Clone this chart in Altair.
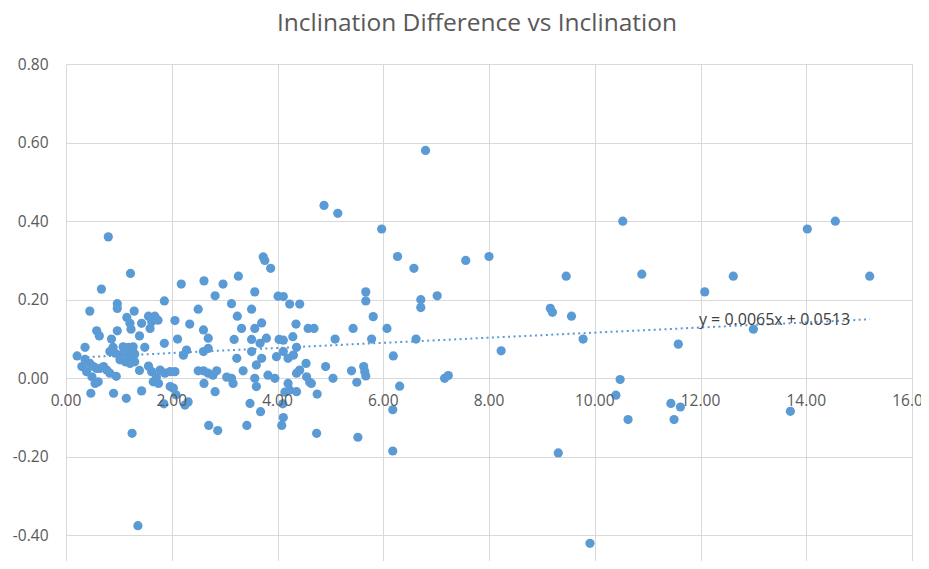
import altair as alt
import pandas as pd

# Inclination (x) and inclination difference (y)
x_vals = [
    6.80, 4.88, 5.14, 5.97, 0.80, 10.53, 14.02, 14.55, 15.20, 10.89, 12.62, 12.08, 9.46, 7.56,
    8.00, 6.27, 6.58, 7.02, 6.71, 6.71, 9.16, 9.20, 9.56, 9.78, 8.23, 13.00, 11.58, 7.16, 7.23,
    10.48, 10.40, 10.63, 11.44, 11.62, 11.50, 13.70, 9.31, 9.91, 1.36, 1.25, 2.70, 2.87,
    1.22, 0.67, 2.18, 1.86, 0.97, 0.97, 0.45, 1.29, 1.15, 1.56, 1.68, 1.21, 1.43, 1.62, 1.74,
    1.59, 2.06, 1.23, 0.58, 0.63, 0.97, 1.39, 2.11, 0.86, 1.86, 0.36, 0.89, 1.08, 1.18, 1.27,
    1.49, 0.21, 0.83, 0.93, 1.02, 1.12, 1.21, 1.30, 0.36, 0.45, 0.52, 0.58, 0.64, 0.71, 0.77,
    0.83, 0.95, 1.02, 1.12, 1.21, 1.30, 1.39, 0.30, 0.39, 0.49, 0.55, 0.61, 1.56, 1.62, 1.71,
    1.78, 1.87, 1.97, 2.06, 1.65, 1.75, 1.97, 2.03, 2.08, 0.47, 0.90, 1.14, 1.43, 2.25, 2.22,
    2.28, 1.85, 2.31,
    3.73, 3.76, 3.87, 3.26, 2.97, 2.61, 2.82, 3.57, 4.01, 4.11, 4.23, 4.42, 3.13, 2.50, 3.51,
    3.24, 2.34, 3.70, 4.35, 3.32, 3.57, 2.60, 2.69, 3.18, 3.51, 3.67, 3.79, 4.03, 4.11, 4.29,
    4.36, 4.58, 2.60, 2.69, 3.51, 3.70, 3.23, 3.98, 4.11, 4.20, 4.30, 3.60, 2.50, 2.60, 2.69,
    2.78, 2.85, 3.35, 3.04, 3.13, 3.16, 3.57, 3.60, 3.82, 3.95, 4.20, 4.23, 4.36, 4.42, 4.54,
    4.36, 2.61, 2.82, 3.48, 3.68, 4.10, 4.11, 4.08, 3.42, 4.14,
    4.74, 5.52, 6.18, 6.18, 6.31, 4.75, 4.61, 5.05, 5.50,
    5.67, 5.67, 5.81, 4.69, 5.43, 6.07, 5.09, 5.78, 6.62, 6.19, 4.91, 5.40, 5.63, 5.65, 5.67,
    4.55, 4.64,
]
y_vals = [
    0.58, 0.44, 0.42, 0.38, 0.36, 0.40, 0.38, 0.40, 0.26, 0.265, 0.26, 0.22, 0.26, 0.30,
    0.31, 0.31, 0.28, 0.21, 0.20, 0.18, 0.178, 0.168, 0.158, 0.10, 0.07, 0.125, 0.087, 0.00, 0.007,
    -0.003, -0.043, -0.105, -0.064, -0.073, -0.105, -0.084, -0.19, -0.42, -0.375, -0.14, -0.12, -0.133,
    0.267, 0.227, 0.24, 0.197, 0.19, 0.178, 0.171, 0.171, 0.155, 0.158, 0.158, 0.14, 0.14, 0.144, 0.148,
    0.127, 0.147, 0.125, 0.121, 0.108, 0.121, 0.108, 0.10, 0.10, 0.089, 0.079, 0.079, 0.08, 0.079, 0.08,
    0.079, 0.057, 0.068, 0.064, 0.059, 0.064, 0.059, 0.062, 0.048, 0.038, 0.03, 0.025, 0.025, 0.03, 0.021,
    0.013, 0.005, 0.047, 0.042, 0.038, 0.042, 0.02, 0.03, 0.017, 0.004, -0.013, -0.009, 0.031, 0.017, 0.004,
    0.021, 0.013, 0.017, 0.017, -0.009, -0.013, -0.021, -0.025, -0.042, -0.038, -0.038, -0.051, -0.032, -0.068, 0.059,
    0.072, -0.065, -0.06,
    0.309, 0.30, 0.28, 0.26, 0.24, 0.248, 0.21, 0.22, 0.209, 0.208, 0.189, 0.189, 0.19, 0.176, 0.176,
    0.158, 0.138, 0.141, 0.138, 0.127, 0.127, 0.123, 0.102, 0.099, 0.099, 0.089, 0.102, 0.099, 0.097, 0.106,
    0.079, 0.127, 0.068, 0.076, 0.068, 0.051, 0.051, 0.055, 0.068, 0.051, 0.059, 0.034, 0.019, 0.019, 0.013,
    0.008, 0.019, 0.019, 0.003, 0.0, -0.013, 0.0, -0.021, 0.008, 0.0, -0.013, -0.03, 0.013, 0.021, 0.038,
    -0.034, -0.013, -0.034, -0.064, -0.085, -0.065, -0.10, -0.12, -0.12, -0.035,
    -0.14, -0.15, -0.08, -0.185, -0.02, -0.04, -0.01, 0.0, -0.01,
    0.22, 0.197, 0.157, 0.127, 0.127, 0.127, 0.10, 0.10, 0.10, 0.057, 0.03, 0.019, 0.03, 0.017, 0.006,
    0.004, -0.013,
]

x_ticks = [0, 2, 4, 6, 8, 10, 12, 14, 16]
y_ticks = [-0.4, -0.2, 0.0, 0.2, 0.4, 0.6, 0.8]
x_tick_labels = ["0.00", "2.00", "4.00", "6.00", "8.00", "10.00", "12.00", "14.00", "16.00"]

# Linear trendline as printed on the chart: y = 0.0065x + 0.0513
trend_x = [0.20, 15.20]
trend_y = [0.0526, 0.1501]
equation_text = ["y = 0.0065x + 0.0513"]
equation_x = [11.97]
equation_y = [0.148]

title_text = "Inclination Difference vs Inclination"

FONT = "Open Sans"
BLUE = "#5B9BD5"
GRID = "#d9d9d9"
LABEL = "#595959"

df = pd.DataFrame({"x": x_vals, "y": y_vals})
ticks_df = pd.DataFrame({"x": x_ticks, "y": [0.0] * len(x_ticks), "label": x_tick_labels})
trend_df = pd.DataFrame({"x": trend_x, "y": trend_y})
eq_df = pd.DataFrame({"x": equation_x, "y": equation_y, "label": equation_text})

xscale = alt.Scale(domain=[0, 16], nice=False, zero=False)
yscale = alt.Scale(domain=[-0.465, 0.8], nice=False, zero=False)

xaxis = alt.Axis(values=x_ticks, grid=True, labels=False, ticks=False, domain=False,
                 title=None, gridColor=GRID, gridWidth=1)
yaxis = alt.Axis(values=y_ticks, grid=True, ticks=False, tickSize=0,
                 labelExpr="(datum.value < -0.001 ? '-' : '') + format(abs(datum.value), '.2f')",
                 domain=False, title=None, gridColor=GRID, gridWidth=1,
                 labelColor=LABEL, labelFont=FONT, labelFontSize=15.5, labelPadding=18)

X = alt.X("x:Q", scale=xscale, axis=xaxis)
Y = alt.Y("y:Q", scale=yscale, axis=yaxis)

points = alt.Chart(df).mark_circle(size=85, color=BLUE, opacity=1).encode(x=X, y=Y)

trend = alt.Chart(trend_df).mark_line(
    color=BLUE, strokeWidth=2, strokeDash=[2, 3.4], strokeCap="butt"
).encode(x=X, y=Y)

xlabels = alt.Chart(ticks_df).mark_text(
    font=FONT, fontSize=15.5, color=LABEL, align="center", baseline="middle", dy=23
).encode(x=X, y=Y, text="label:N")

equation = alt.Chart(eq_df).mark_text(
    font=FONT, fontSize=16, color="#404040", align="left", baseline="middle"
).encode(x=X, y=Y, text="label:N")

chart = alt.layer(points, trend, xlabels, equation).properties(
    width=846,
    height=497,
    padding={"left": 58, "top": 56, "right": 9, "bottom": 0},
    autosize=alt.AutoSizeParams(type="none"),
    title=alt.TitleParams(
        text=title_text, font=FONT, fontSize=24.5, fontWeight="normal", color=LABEL,
        anchor="middle", frame="group", dx=-12, offset=21
    ),
).configure_view(stroke=None)

chart.save("out.html", embed_options={"renderer": "svg", "actions": False})
